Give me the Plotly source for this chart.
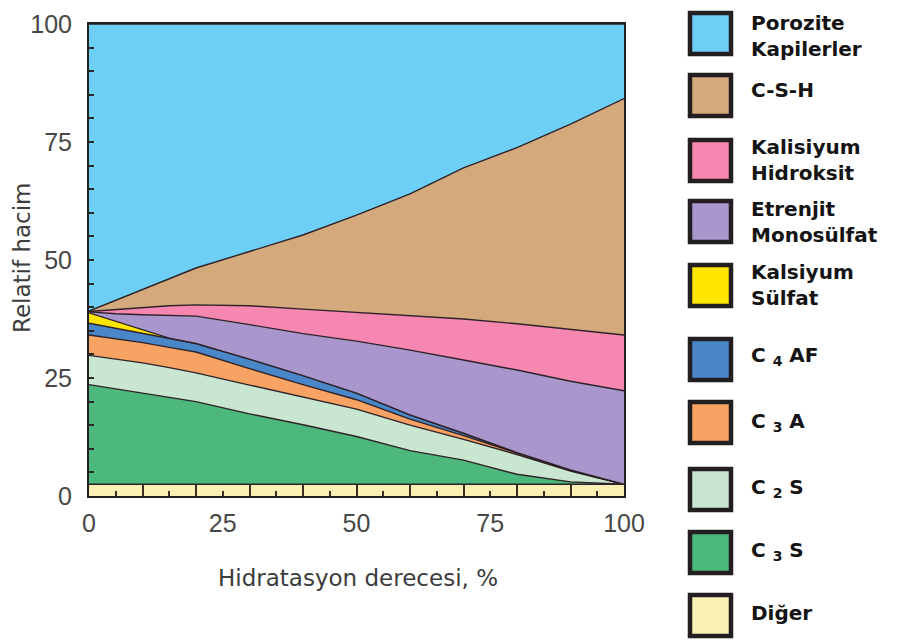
import plotly.graph_objects as go

# ---------------- data (volume fractions) ----------------
hydration = [0, 5, 10, 15, 20, 30, 40, 50, 60, 70, 80, 90, 100]

diger      = [2.5, 2.5, 2.5, 2.5, 2.5, 2.5, 2.5, 2.5, 2.5, 2.5, 2.5, 2.5, 2.5]
c3s        = [21.1, 20.2, 19.3, 18.5, 17.5, 14.9, 12.6, 10.1, 7.1, 5.1, 2.1, 0.5, 0.0]
c2s        = [6.2, 6.3, 6.4, 6.2, 6.1, 6.1, 5.9, 5.8, 5.4, 4.4, 4.2, 2.3, 0.0]
c3a        = [4.3, 4.3, 4.3, 4.3, 4.4, 3.5, 2.6, 2.0, 1.3, 0.8, 0.3, 0.1, 0.0]
c4af       = [2.5, 2.2, 2.0, 1.8, 1.8, 2.0, 1.9, 1.4, 0.9, 0.5, 0.1, 0.1, 0.0]
kalsiyum_sulfat = [2.2, 1.5, 0.8, 0.15, 0.0, 0.0, 0.0, 0.0, 0.0, 0.0, 0.0, 0.0, 0.0]
etrenjit   = [0.2, 1.6, 3.1, 4.85, 5.8, 7.3, 8.9, 11.0, 13.7, 15.5, 17.5, 18.8, 19.8]
kalsiyum_hidroksit = [0.1, 0.9, 1.5, 2.0, 2.4, 4.0, 5.2, 6.1, 7.4, 8.7, 9.8, 11.0, 11.8]
csh        = [0.1, 2.0, 3.9, 5.7, 7.8, 11.5, 15.7, 20.6, 25.7, 32.0, 37.3, 43.5, 50.1]
porozite   = [60.8, 58.5, 56.2, 54.0, 51.7, 48.2, 44.7, 40.5, 36.0, 30.5, 26.2, 21.2, 15.8]

x_tick_vals = [0, 25, 50, 75, 100]
y_tick_vals = [0, 25, 50, 75, 100]

x_title = "Hidratasyon derecesi, %"
y_title = "Relatif hacim"

# bottom-to-top stacking order
series = [
    ("Diğer", diger, "#FBF0B4"),
    ("C3S", c3s, "#4DB87B"),
    ("C2S", c2s, "#C8E6D0"),
    ("C3A", c3a, "#F8A263"),
    ("C4AF", c4af, "#4A87C8"),
    ("Kalsiyum Sülfat", kalsiyum_sulfat, "#FFE500"),
    ("Etrenjit Monosülfat", etrenjit, "#A996CC"),
    ("Kalisiyum Hidroksit", kalsiyum_hidroksit, "#F587B1"),
    ("C-S-H", csh, "#D4A97C"),
    ("Porozite Kapilerler", porozite, "#6DCFF5"),
]

# legend (top-to-bottom): label text and colour
legend_items = [
    ("Porozite<br>Kapilerler", "#6DCFF5"),
    ("C-S-H", "#D4A97C"),
    ("Kalisiyum<br>Hidroksit", "#F587B1"),
    ("Etrenjit<br>Monosülfat", "#A996CC"),
    ("Kalsiyum<br>Sülfat", "#FFE500"),
    ("C <sub>4</sub> AF", "#4A87C8"),
    ("C <sub>3</sub> A", "#F8A263"),
    ("C <sub>2</sub> S", "#C8E6D0"),
    ("C <sub>3</sub> S", "#4DB87B"),
    ("Diğer", "#FBF0B4"),
]

# ---------------- figure ----------------
OFF = 8                      # page body margin of the html page
W, H = 906 - OFF, 641 - OFF
# plot area in screenshot pixels
L, R, T, B = 89, 624, 24, 496

fig = go.Figure()
for name, vals, col in series:
    fig.add_trace(go.Scatter(
        x=hydration, y=vals, name=name, stackgroup="one",
        mode="lines", line=dict(color="#2e2228", width=1.4),
        fillcolor=col, showlegend=False, hoverinfo="x+y+name",
    ))
# carrier for the labelled overlay axis (no marks)
fig.add_trace(go.Scatter(x=[], y=[], xaxis="x2", yaxis="y",
                         showlegend=False, hoverinfo="skip"))

def px_x(px):
    return (px - L) / (R - L)

def px_y(py):
    return (B - py) / (B - T)

# custom legend
box_tops = [11, 73, 138, 199, 263, 337, 400, 467, 530, 593]
text_centers = [36, 90, 160, 222, 285, 356, 422, 488, 551, 613]
shapes = []
annotations = []
for (label, col), top, yc in zip(legend_items, box_tops, text_centers):
    shapes.append(dict(type="rect", xref="paper", yref="paper",
                       x0=px_x(690), x1=px_x(731), y0=px_y(top + 2), y1=px_y(top + 43),
                       fillcolor=col, line=dict(color="#231f20", width=4.5)))
    annotations.append(dict(text=label, xref="paper", yref="paper",
                            x=px_x(749), y=px_y(yc), xanchor="left", yanchor="middle",
                            align="left", showarrow=False,
                            font=dict(family="DejaVu Sans", size=20, color="#141414",
                                      weight="bold")))

# axis titles
annotations.append(dict(text=x_title, xref="paper", yref="paper",
                        x=px_x(358), y=px_y(578), xanchor="center", yanchor="middle",
                        showarrow=False,
                        font=dict(family="DejaVu Sans", size=23, color="#3c3c3c")))
annotations.append(dict(text=y_title, xref="paper", yref="paper",
                        x=px_x(22), y=px_y(258), xanchor="center", yanchor="middle",
                        textangle=-90, showarrow=False,
                        font=dict(family="DejaVu Sans", size=23, color="#3c3c3c")))

tickfont = dict(family="Liberation Sans", size=25, color="#474747")
tickcol = "#3a2e20"

fig.update_layout(
    width=W, height=H,
    margin=dict(l=L - OFF, r=906 - R, t=T - OFF, b=641 - B, pad=0, autoexpand=False),
    paper_bgcolor="white", plot_bgcolor="white",
    showlegend=False,
    shapes=shapes, annotations=annotations,
    # tick marks inside the bottom strip
    xaxis=dict(range=[0, 100], tickmode="linear", tick0=0, dtick=10,
               ticks="inside", ticklen=12, tickwidth=1.5, tickcolor=tickcol,
               showticklabels=False, automargin=False,
               minor=dict(tickmode="linear", tick0=0, dtick=5, ticks="inside",
                          ticklen=5, tickwidth=1.5, tickcolor=tickcol, showgrid=False),
               showgrid=False, zeroline=False,
               showline=True, linecolor="#222222", linewidth=2, mirror=True),
    # labelled axis
    xaxis2=dict(range=[0, 100], overlaying="x", anchor="y", side="bottom",
                tickmode="array", tickvals=x_tick_vals, ticks="",
                showticklabels=True, tickfont=tickfont, ticklabelstandoff=10,
                showgrid=False, zeroline=False, showline=False, automargin=False),
    yaxis=dict(range=[0, 100], tickmode="array", tickvals=y_tick_vals,
               ticks="inside", ticklen=5, tickwidth=1.5, tickcolor="#2a2a2a",
               minor=dict(tickmode="linear", tick0=0, dtick=5, ticks="inside",
                          ticklen=5, tickwidth=1.5, tickcolor="#2a2a2a", showgrid=False),
               showgrid=False, zeroline=False, automargin=False,
               showline=True, linecolor="#222222", linewidth=2, mirror=True,
               tickfont=tickfont, ticklabelstandoff=10),
)

fig.write_html("out.html")
